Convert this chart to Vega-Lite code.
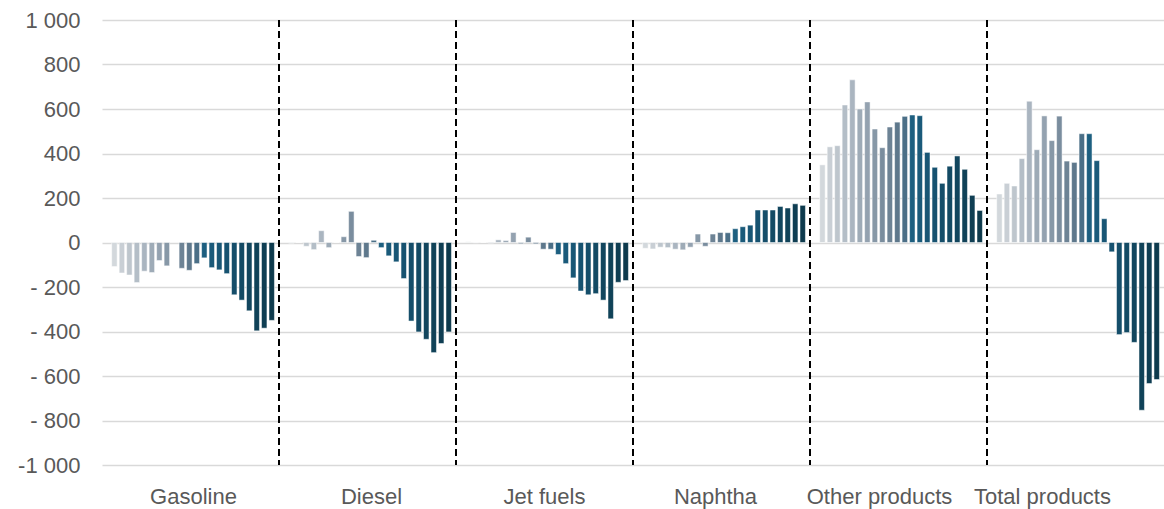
{
  "$schema": "https://vega.github.io/schema/vega-lite/v6.json",
  "width": 1062,
  "height": 445,
  "autosize": {"type": "none"},
  "padding": {"left": 102, "top": 20, "right": 0, "bottom": 44},
  "config": {"view": {"stroke": null}, "font": "Liberation Sans"},
  "data": {"values": [
    {"g": "Gasoline", "i": 1, "v": -108}, {"g": "Gasoline", "i": 2, "v": -137}, {"g": "Gasoline", "i": 3, "v": -146}, {"g": "Gasoline", "i": 4, "v": -180},
    {"g": "Gasoline", "i": 5, "v": -129}, {"g": "Gasoline", "i": 6, "v": -135}, {"g": "Gasoline", "i": 7, "v": -81}, {"g": "Gasoline", "i": 8, "v": -105},
    {"g": "Gasoline", "i": 10, "v": -116}, {"g": "Gasoline", "i": 11, "v": -125}, {"g": "Gasoline", "i": 12, "v": -95},
    {"g": "Gasoline", "i": 13, "v": -69}, {"g": "Gasoline", "i": 14, "v": -113}, {"g": "Gasoline", "i": 15, "v": -123}, {"g": "Gasoline", "i": 16, "v": -140},
    {"g": "Gasoline", "i": 17, "v": -235}, {"g": "Gasoline", "i": 18, "v": -259}, {"g": "Gasoline", "i": 19, "v": -307}, {"g": "Gasoline", "i": 20, "v": -397},
    {"g": "Gasoline", "i": 21, "v": -385}, {"g": "Gasoline", "i": 22, "v": -350},
    {"g": "Diesel", "i": 1, "v": -3}, {"g": "Diesel", "i": 2, "v": 0}, {"g": "Diesel", "i": 3, "v": -17}, {"g": "Diesel", "i": 4, "v": -32},
    {"g": "Diesel", "i": 5, "v": 53}, {"g": "Diesel", "i": 6, "v": -23}, {"g": "Diesel", "i": 7, "v": 0}, {"g": "Diesel", "i": 8, "v": 26},
    {"g": "Diesel", "i": 9, "v": 140}, {"g": "Diesel", "i": 10, "v": -63}, {"g": "Diesel", "i": 11, "v": -68}, {"g": "Diesel", "i": 12, "v": 10},
    {"g": "Diesel", "i": 13, "v": -23}, {"g": "Diesel", "i": 14, "v": -60}, {"g": "Diesel", "i": 15, "v": -87}, {"g": "Diesel", "i": 16, "v": -162},
    {"g": "Diesel", "i": 17, "v": -353}, {"g": "Diesel", "i": 18, "v": -402}, {"g": "Diesel", "i": 19, "v": -435}, {"g": "Diesel", "i": 20, "v": -495},
    {"g": "Diesel", "i": 21, "v": -454}, {"g": "Diesel", "i": 22, "v": -402},
    {"g": "Jet fuels", "i": 1, "v": 3}, {"g": "Jet fuels", "i": 2, "v": -1}, {"g": "Jet fuels", "i": 3, "v": 0}, {"g": "Jet fuels", "i": 4, "v": -3},
    {"g": "Jet fuels", "i": 5, "v": 12}, {"g": "Jet fuels", "i": 6, "v": 9}, {"g": "Jet fuels", "i": 7, "v": 45}, {"g": "Jet fuels", "i": 8, "v": -6},
    {"g": "Jet fuels", "i": 9, "v": 24}, {"g": "Jet fuels", "i": 10, "v": -6}, {"g": "Jet fuels", "i": 11, "v": -30}, {"g": "Jet fuels", "i": 12, "v": -30},
    {"g": "Jet fuels", "i": 13, "v": -54}, {"g": "Jet fuels", "i": 14, "v": -95}, {"g": "Jet fuels", "i": 15, "v": -159}, {"g": "Jet fuels", "i": 16, "v": -218},
    {"g": "Jet fuels", "i": 17, "v": -235}, {"g": "Jet fuels", "i": 18, "v": -230}, {"g": "Jet fuels", "i": 19, "v": -259}, {"g": "Jet fuels", "i": 20, "v": -343},
    {"g": "Jet fuels", "i": 21, "v": -179}, {"g": "Jet fuels", "i": 22, "v": -171},
    {"g": "Naphtha", "i": 1, "v": -26}, {"g": "Naphtha", "i": 2, "v": -29}, {"g": "Naphtha", "i": 3, "v": -21}, {"g": "Naphtha", "i": 4, "v": -23},
    {"g": "Naphtha", "i": 5, "v": -30}, {"g": "Naphtha", "i": 6, "v": -33}, {"g": "Naphtha", "i": 7, "v": -21}, {"g": "Naphtha", "i": 8, "v": 38},
    {"g": "Naphtha", "i": 9, "v": -17}, {"g": "Naphtha", "i": 10, "v": 38}, {"g": "Naphtha", "i": 11, "v": 45}, {"g": "Naphtha", "i": 12, "v": 44},
    {"g": "Naphtha", "i": 13, "v": 62}, {"g": "Naphtha", "i": 14, "v": 71}, {"g": "Naphtha", "i": 15, "v": 78}, {"g": "Naphtha", "i": 16, "v": 146},
    {"g": "Naphtha", "i": 17, "v": 146}, {"g": "Naphtha", "i": 18, "v": 146}, {"g": "Naphtha", "i": 19, "v": 162}, {"g": "Naphtha", "i": 20, "v": 155},
    {"g": "Naphtha", "i": 21, "v": 174}, {"g": "Naphtha", "i": 22, "v": 167},
    {"g": "Other products", "i": 1, "v": 349}, {"g": "Other products", "i": 2, "v": 430}, {"g": "Other products", "i": 3, "v": 435}, {"g": "Other products", "i": 4, "v": 618},
    {"g": "Other products", "i": 5, "v": 731}, {"g": "Other products", "i": 6, "v": 600}, {"g": "Other products", "i": 7, "v": 632}, {"g": "Other products", "i": 8, "v": 510},
    {"g": "Other products", "i": 9, "v": 426}, {"g": "Other products", "i": 10, "v": 519}, {"g": "Other products", "i": 11, "v": 541}, {"g": "Other products", "i": 12, "v": 567},
    {"g": "Other products", "i": 13, "v": 573}, {"g": "Other products", "i": 14, "v": 570}, {"g": "Other products", "i": 15, "v": 405}, {"g": "Other products", "i": 16, "v": 338},
    {"g": "Other products", "i": 17, "v": 266}, {"g": "Other products", "i": 18, "v": 343}, {"g": "Other products", "i": 19, "v": 389}, {"g": "Other products", "i": 20, "v": 329},
    {"g": "Other products", "i": 21, "v": 212}, {"g": "Other products", "i": 22, "v": 144},
    {"g": "Total products", "i": 1, "v": 218}, {"g": "Total products", "i": 2, "v": 266}, {"g": "Total products", "i": 3, "v": 254}, {"g": "Total products", "i": 4, "v": 377},
    {"g": "Total products", "i": 5, "v": 635}, {"g": "Total products", "i": 6, "v": 417}, {"g": "Total products", "i": 7, "v": 569}, {"g": "Total products", "i": 8, "v": 458},
    {"g": "Total products", "i": 9, "v": 568}, {"g": "Total products", "i": 10, "v": 366}, {"g": "Total products", "i": 11, "v": 360}, {"g": "Total products", "i": 12, "v": 489},
    {"g": "Total products", "i": 13, "v": 489}, {"g": "Total products", "i": 14, "v": 368}, {"g": "Total products", "i": 15, "v": 107}, {"g": "Total products", "i": 16, "v": -42},
    {"g": "Total products", "i": 17, "v": -414}, {"g": "Total products", "i": 18, "v": -405}, {"g": "Total products", "i": 19, "v": -449}, {"g": "Total products", "i": 20, "v": -754},
    {"g": "Total products", "i": 21, "v": -634}, {"g": "Total products", "i": 22, "v": -616}
  ]},
  "layer": [
    {
      "mark": {"type": "bar", "stroke": "#ffffff", "strokeWidth": 0.5},
      "encoding": {
        "x": {
          "field": "g", "type": "nominal",
          "sort": ["Gasoline", "Diesel", "Jet fuels", "Naphtha", "Other products", "Total products"],
          "scale": {"domain": ["Gasoline", "Diesel", "Jet fuels", "Naphtha", "Other products", "Total products"], "paddingInner": 0, "paddingOuter": 0},
          "axis": {
            "title": null, "domain": false, "ticks": false, "grid": false,
            "labelFontSize": 22, "labelColor": "#595959", "labelAngle": 0,
            "labelBaseline": "alphabetic", "labelPadding": 38, "labelOverlap": false,
            "labelOffset": {
              "condition": [
                {"test": "datum.value == 'Gasoline'", "value": 3},
                {"test": "datum.value == 'Diesel'", "value": 4},
                {"test": "datum.value == 'Naphtha'", "value": -6},
                {"test": "datum.value == 'Other products'", "value": -19},
                {"test": "datum.value == 'Total products'", "value": -33}
              ],
              "value": 0
            }
          }
        },
        "xOffset": {
          "field": "i", "type": "ordinal",
          "scale": {"domain": [1,2,3,4,5,6,7,8,9,10,11,12,13,14,15,16,17,18,19,20,21,22], "paddingInner": 0.27, "paddingOuter": 0.95, "align": 0.68}
        },
        "y": {
          "field": "v", "type": "quantitative",
          "scale": {"domain": [-1000, 1000], "nice": false},
          "axis": {
            "title": null, "domain": false, "ticks": false,
            "values": [-1000, -800, -600, -400, -200, 0, 200, 400, 600, 800, 1000],
            "gridColor": "#d9d9d9", "gridWidth": 1.5,
            "labelFontSize": 22, "labelColor": "#595959", "labelPadding": 22,
            "labelExpr": "datum.value == 0 ? '0' : datum.value <= -1000 ? '-1 000' : datum.value >= 1000 ? '1 000' : datum.value < 0 ? '- ' + abs(datum.value) : '' + datum.value"
          }
        },
        "color": {
          "field": "i", "type": "ordinal", "legend": null,
          "scale": {
            "domain": [1,2,3,4,5,6,7,8,9,10,11,12,13,14,15,16,17,18,19,20,21,22],
            "range": ["#d3d8dc","#c9cfd5","#bec6cd","#b4bec7","#aab5c0","#9eabb7","#94a2b0","#8798a7","#7a8d9e","#6d8395","#5e788c","#4b6f87","#1d5f80","#1a5a7a","#185675","#165270","#154e6a","#134a64","#12465e","#104258","#0f3e53","#0d3a4d"]
          }
        }
      }
    },
    {
      "transform": [{"filter": "datum.i == 1 && datum.g != 'Total products'"}],
      "mark": {"type": "rule", "strokeDash": [7, 4], "strokeWidth": 2, "color": "#000000"},
      "encoding": {
        "x": {"field": "g", "type": "nominal", "bandPosition": 1, "sort": ["Gasoline", "Diesel", "Jet fuels", "Naphtha", "Other products", "Total products"]}
      }
    }
  ]
}
